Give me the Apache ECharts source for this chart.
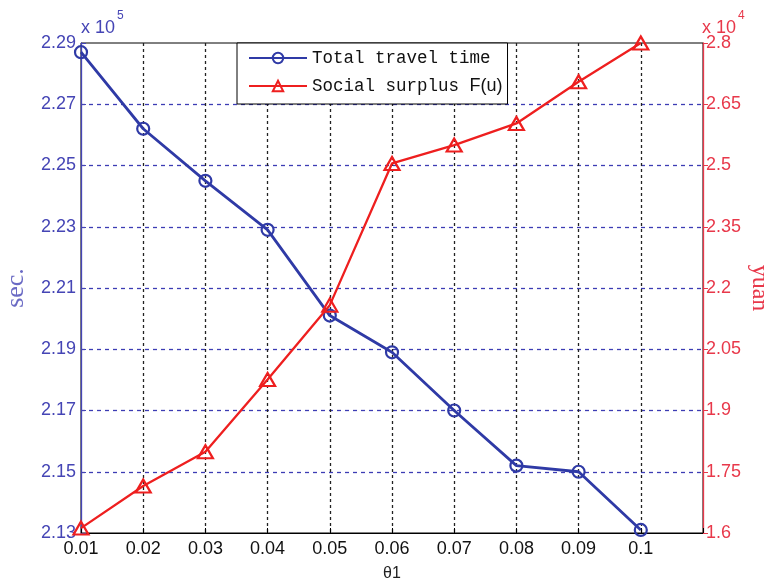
<!DOCTYPE html>
<html>
<head>
<meta charset="utf-8">
<title>Total travel time and social surplus vs θ1</title>
<script src="https://cdn.jsdelivr.net/npm/echarts@6/dist/echarts.min.js"></script>
<style>
  html, body { margin: 0; padding: 0; background: #fff; }
  #chart { width: 770px; height: 582px; }
</style>
</head>
<body>
<div id="chart"></div>
<script>
// θ1 values and tick labels
const theta = [0.01, 0.02, 0.03, 0.04, 0.05, 0.06, 0.07, 0.08, 0.09, 0.1];
const xTickLabels = ['0.01', '0.02', '0.03', '0.04', '0.05', '0.06', '0.07', '0.08', '0.09', '0.1'];

// Total travel time (x 10^5 sec.)
const totalTravelTime = [2.287, 2.262, 2.245, 2.229, 2.201, 2.189, 2.170, 2.152, 2.150, 2.131];
// Social surplus F(u) (x 10^4 yuan)
const socialSurplus = [1.612, 1.715, 1.799, 1.976, 2.158, 2.505, 2.550, 2.603, 2.705, 2.800];

const leftTickLabels = ['2.13', '2.15', '2.17', '2.19', '2.21', '2.23', '2.25', '2.27', '2.29'];
const rightTickLabels = ['1.6', '1.75', '1.9', '2.05', '2.2', '2.35', '2.5', '2.65', '2.8'];

const BLUE = '#2f3aa6';
const BLUE_TXT = '#4545b5';
const RED = '#ee1f1f';
const RED_TXT = '#e8384a';

// Axes are laid out in tick units so that every tick sits on a labelled value
const xMin = theta[0], xStep = theta[1] - theta[0];
const lMin = parseFloat(leftTickLabels[0]), lStep = parseFloat(leftTickLabels[1]) - lMin;
const rMin = parseFloat(rightTickLabels[0]), rStep = parseFloat(rightTickLabels[1]) - rMin;

const toX = t => (t - xMin) / xStep;
const travelData = theta.map((t, i) => [toX(t), (totalTravelTime[i] - lMin) / lStep]);
const surplusData = theta.map((t, i) => [toX(t), (socialSurplus[i] - rMin) / rStep]);

const SANS = 'Liberation Sans, Arial, sans-serif';
const SERIF = 'Liberation Serif, Times New Roman, serif';
const MONO = 'Liberation Mono, DejaVu Sans Mono, monospace';
const tickFont = { fontFamily: SANS, fontSize: 18 };

const chart = echarts.init(document.getElementById('chart'), null, { renderer: 'canvas' });

chart.setOption({
  animation: false,
  backgroundColor: '#fff',
  grid: {
    left: 81, right: 67, top: 43, bottom: 49,
    outerBoundsMode: 'none',
    containLabel: false,
    show: true, borderColor: '#000', borderWidth: 1, backgroundColor: '#fff'
  },
  legend: {
    left: 237, top: 43,
    orient: 'vertical',
    backgroundColor: '#fff',
    borderColor: '#000',
    borderWidth: 1,
    padding: [6, 5, 9, 11],
    itemGap: 10,
    itemWidth: 58,
    itemHeight: 13,
    textStyle: {
      fontFamily: MONO, fontSize: 17.5, color: '#111',
      rich: {
        m: { fontFamily: MONO, fontSize: 17.5, color: '#111' },
        s: { fontFamily: SANS, fontSize: 18, color: '#111' }
      }
    },
    formatter: name => name.endsWith('F(u)')
      ? '{m|' + name.slice(0, -4) + '}{s|F(u)}'
      : name
  },
  xAxis: {
    type: 'value',
    min: 0, max: xTickLabels.length, interval: 1,
    name: 'θ1',
    nameLocation: 'middle',
    nameGap: 33,
    nameTextStyle: { fontFamily: SANS, fontSize: 16, color: '#222' },
    axisLine: { show: true, lineStyle: { color: '#000', width: 1 } },
    axisTick: { show: true, inside: true, length: 5, lineStyle: { color: '#000' } },
    axisLabel: {
      ...tickFont, color: '#111', margin: 7,
      formatter: v => xTickLabels[Math.round(v)] || ''
    },
    splitLine: {
      show: true, showMinLine: false, showMaxLine: false,
      lineStyle: { color: '#222', type: [3, 3], width: 1.3 }
    }
  },
  yAxis: [
    {
      type: 'value',
      position: 'left',
      min: 0, max: leftTickLabels.length - 1, interval: 1,
      name: 'sec.',
      nameLocation: 'middle',
      nameGap: 52,
      nameRotate: 90,
      nameTextStyle: { fontFamily: SERIF, fontSize: 26, color: '#6a6ac4' },
      axisLine: { show: true, lineStyle: { color: BLUE_TXT, width: 1.3 } },
      axisTick: { show: true, inside: true, length: 5, lineStyle: { color: BLUE_TXT } },
      axisLabel: {
        ...tickFont, color: BLUE_TXT, margin: 5,
        formatter: v => leftTickLabels[Math.round(v)] || ''
      },
      splitLine: {
        show: true, showMinLine: false, showMaxLine: false,
        lineStyle: { color: '#3c3cb4', type: [4, 4], width: 1.3 }
      }
    },
    {
      type: 'value',
      position: 'right',
      min: 0, max: rightTickLabels.length - 1, interval: 1,
      name: 'yuan',
      nameLocation: 'middle',
      nameGap: 44,
      nameMoveOverlap: false,
      nameRotate: -90,
      nameTextStyle: { fontFamily: SERIF, fontSize: 24, color: RED_TXT },
      axisLine: { show: true, lineStyle: { color: RED_TXT, width: 1.3 } },
      axisTick: { show: true, inside: false, length: 5, lineStyle: { color: RED_TXT } },
      axisLabel: {
        ...tickFont, color: RED_TXT, margin: 3,
        formatter: v => rightTickLabels[Math.round(v)] || ''
      },
      splitLine: { show: false }
    }
  ],
  graphic: [
    {
      type: 'text', left: 81, top: 10,
      style: {
        text: '{a|x 10}{b|5}',
        rich: {
          a: { fontFamily: SANS, fontSize: 18, fill: BLUE_TXT, padding: [14, 0, 0, 0] },
          b: { fontFamily: SANS, fontSize: 12, fill: BLUE_TXT, padding: [0, 0, 10, 2] }
        }
      }
    },
    {
      type: 'text', left: 702, top: 10,
      style: {
        text: '{a|x 10}{b|4}',
        rich: {
          a: { fontFamily: SANS, fontSize: 18, fill: RED_TXT, padding: [14, 0, 0, 0] },
          b: { fontFamily: SANS, fontSize: 12, fill: RED_TXT, padding: [0, 0, 10, 2] }
        }
      }
    }
  ],
  series: [
    {
      name: 'Total travel time',
      type: 'line',
      yAxisIndex: 0,
      data: travelData,
      symbol: 'circle',
      symbolSize: 12,
      lineStyle: { color: BLUE, width: 2.8 },
      itemStyle: { color: 'rgba(255,255,255,0)', borderColor: BLUE, borderWidth: 2.2 },
      z: 3
    },
    {
      name: 'Social surplus F(u)',
      type: 'line',
      yAxisIndex: 1,
      data: surplusData,
      symbol: 'triangle',
      symbolSize: [15, 13],
      lineStyle: { color: RED, width: 2.3 },
      itemStyle: { color: 'rgba(255,255,255,0)', borderColor: RED, borderWidth: 2.2 },
      z: 4
    }
  ]
});
</script>
</body>
</html>
